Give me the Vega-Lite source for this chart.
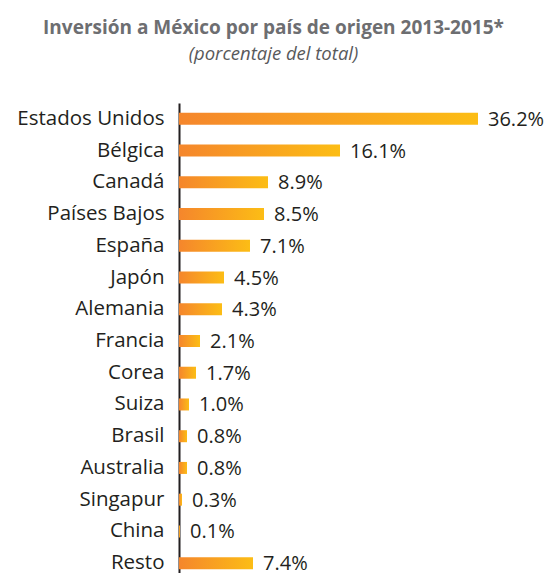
{
  "$schema": "https://vega.github.io/schema/vega-lite/v6.json",
  "width": 299,
  "height": 476,
  "autosize": "none",
  "padding": {"left": 179, "top": 103, "right": 68, "bottom": 0},
  "background": "white",
  "title": {
    "text": "Inversión a México por país de origen 2013-2015*",
    "subtitle": "(porcentaje del total)",
    "anchor": "middle",
    "dx": -55,
    "offset": 40,
    "font": "Open Sans",
    "fontSize": 19,
    "fontWeight": "bold",
    "color": "#6d6e71",
    "subtitleFont": "Open Sans",
    "subtitleFontSize": 18.5,
    "subtitleFontStyle": "italic",
    "subtitleColor": "#58595b",
    "subtitlePadding": 7
  },
  "data": {
    "values": [
      {"pais": "Estados Unidos", "valor": 0.362},
      {"pais": "Bélgica", "valor": 0.161},
      {"pais": "Canadá", "valor": 0.089},
      {"pais": "Países Bajos", "valor": 0.085},
      {"pais": "España", "valor": 0.071},
      {"pais": "Japón", "valor": 0.045},
      {"pais": "Alemania", "valor": 0.043},
      {"pais": "Francia", "valor": 0.021},
      {"pais": "Corea", "valor": 0.017},
      {"pais": "Suiza", "valor": 0.010},
      {"pais": "Brasil", "valor": 0.008},
      {"pais": "Australia", "valor": 0.008},
      {"pais": "Singapur", "valor": 0.003},
      {"pais": "China", "valor": 0.001},
      {"pais": "Resto", "valor": 0.074}
    ]
  },
  "encoding": {
    "y": {
      "field": "pais",
      "type": "nominal",
      "sort": null,
      "scale": {"paddingInner": 0, "paddingOuter": 0},
      "axis": {
        "title": null,
        "ticks": false,
        "grid": false,
        "domainColor": "#231f20",
        "domainWidth": 2,
        "labelFont": "Open Sans",
        "labelFontSize": 20.5,
        "labelColor": "#231f20",
        "labelPadding": 15
      }
    },
    "x": {
      "field": "valor",
      "type": "quantitative",
      "scale": {"domain": [0, 0.299], "clamp": true, "nice": false, "zero": true},
      "axis": null
    }
  },
  "layer": [
    {
      "mark": {
        "type": "bar",
        "size": 12,
        "color": {
          "gradient": "linear",
          "x1": 0, "y1": 0, "x2": 1, "y2": 0,
          "stops": [
            {"offset": 0, "color": "#f5862c"},
            {"offset": 1, "color": "#fcbd15"}
          ]
        }
      }
    },
    {
      "mark": {
        "type": "text",
        "align": "left",
        "baseline": "middle",
        "dx": 10,
        "dy": 1,
        "font": "Open Sans",
        "fontSize": 20,
        "color": "#231f20"
      },
      "encoding": {
        "text": {"field": "valor", "type": "quantitative", "format": ".1%"}
      }
    }
  ],
  "config": {"view": {"stroke": null}}
}
